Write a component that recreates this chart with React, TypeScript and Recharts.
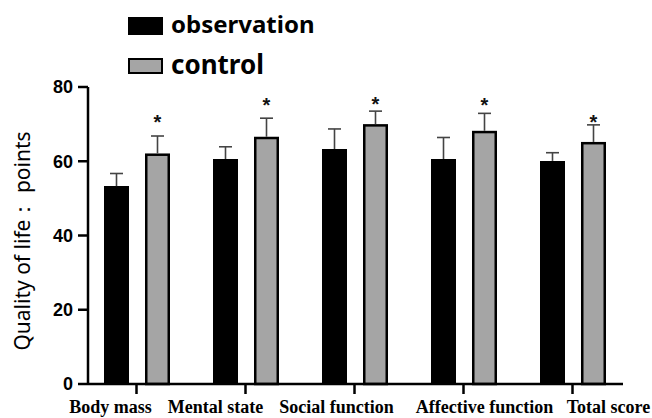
import { BarChart, Bar, XAxis, YAxis, Legend, LabelList } from 'recharts';

const categories = ['Body mass', 'Mental state', 'Social function', 'Affective function', 'Total score'];
const seriesNames = ['observation', 'control'];
const observation = [53.3, 60.6, 63.3, 60.6, 60.1];
const control = [62.1, 66.6, 70.0, 68.2, 65.2];
const observationSd = [3.4, 3.3, 5.4, 5.8, 2.2];
const controlSd = [4.7, 5.0, 3.5, 4.7, 4.6];
// where the significance star sits, in y units
const starLevel = [71.6, 76.3, 76.5, 76.3, 71.7];
const yTicks = [0, 20, 40, 60, 80];

const data = categories.map((name, i) => ({
  name,
  observation: observation[i],
  control: control[i],
}));

// the printed labels are not centred under their ticks in the source figure
const labelShift = [-26, -30, -18, 21, 36];

const GREY = '#a5a5a5';
const LINE = 2.5;

function Whisker(props: any, sd: number[], star?: number[]) {
  const vb = props.viewBox || props;
  const { x, y, width, height } = vb;
  const idx = props.index;
  const value = Number(props.value);
  if (!value || idx == null) return null;
  const perUnit = height / value;
  const cx = x + width / 2;
  const top = y - sd[idx] * perUnit;
  return (
    <g>
      <line x1={cx} y1={y} x2={cx} y2={top} stroke="#444" strokeWidth={1.6} />
      <line x1={cx - 6.5} y1={top} x2={cx + 6.5} y2={top} stroke="#444" strokeWidth={1.6} />
      {star && (
        <text
          x={cx}
          y={y + height - star[idx] * perUnit + 11}
          textAnchor="middle"
          fontSize={20}
          fontWeight="bold"
          fontFamily="Liberation Sans, Arial, sans-serif"
          fill="#111"
        >
          *
        </text>
      )}
    </g>
  );
}

function GreyBar(props: any) {
  const { x, y, width, height } = props;
  if (!height) return null;
  return (
    <rect
      x={x + LINE / 2}
      y={y + LINE / 2}
      width={width - LINE}
      height={height - LINE / 2}
      fill={GREY}
      stroke="#000"
      strokeWidth={LINE}
    />
  );
}

function CategoryTick(props: any) {
  const { x, payload, index } = props;
  return (
    <text
      x={x + (labelShift[index] || 0)}
      y={413}
      textAnchor="middle"
      fontSize={18}
      fontWeight="bold"
      fontFamily="Liberation Serif, Times New Roman, serif"
      fill="#000"
    >
      {payload.value}
    </text>
  );
}

function LegendBox(props: any) {
  const items = [...(props.payload || [])].sort(
    (a: any, b: any) => seriesNames.indexOf(a.value) - seriesNames.indexOf(b.value)
  );
  const rows = [
    { rectY: 18, rectH: 16, textY: 33, size: 24 },
    { rectY: 59, rectH: 14, textY: 74, size: 26 },
  ];
  return (
    <svg width={330} height={86} style={{ display: 'block' }}>
      {items.map((item: any, i: number) => {
        const r = rows[i] || rows[0];
        return (
          <g key={item.value}>
            <rect
              x={129}
              y={r.rectY}
              width={33}
              height={r.rectH}
              fill={item.color}
              stroke="#000"
              strokeWidth={2}
            />
            <text
              x={171}
              y={r.textY}
              fontSize={r.size}
              fontWeight="bold"
              fontFamily="Noto Sans, Open Sans, sans-serif"
              fill="#000"
            >
              {item.value}
            </text>
          </g>
        );
      })}
    </svg>
  );
}

export default function App() {
  return (
    <div style={{ position: 'absolute', left: 0, top: 0, width: 652, height: 418, background: '#fff' }}>
      <BarChart
        width={652}
        height={418}
        data={data}
        margin={{ top: 87, right: 29, bottom: 0, left: 0 }}
        barSize={25}
        barGap={16}
      >
        <XAxis
          dataKey="name"
          height={34}
          padding={{ left: -6, right: -4 }}
          tickSize={10}
          axisLine={{ stroke: '#000', strokeWidth: LINE }}
          tickLine={{ stroke: '#000', strokeWidth: LINE }}
          tick={<CategoryTick />}
          interval={0}
        />
        <YAxis
          width={88}
          domain={[0, 80]}
          ticks={yTicks}
          interval={0}
          tickSize={10}
          tickMargin={5}
          axisLine={{ stroke: '#000', strokeWidth: LINE }}
          tickLine={{ stroke: '#000', strokeWidth: LINE }}
          tick={{ fontSize: 18, fontWeight: 'bold', fill: '#000', fontFamily: 'Liberation Sans, Arial, sans-serif' }}
          label={{
            content: () => (
              <text
                x={30}
                y={241}
                transform="rotate(-90 30 241)"
                textAnchor="middle"
                fontSize={21}
                fontFamily="Noto Sans, sans-serif"
                fill="#000"
              >
                Quality of life： points
              </text>
            ),
          }}
        />
        <Legend
          layout="vertical"
          align="center"
          verticalAlign="middle"
          wrapperStyle={{ position: 'absolute', left: 0, top: 0, width: 330, height: 86 }}
          content={<LegendBox />}
        />
        <Bar dataKey="observation" name="observation" fill="#000" isAnimationActive={false}>
          <LabelList dataKey="observation" content={(p: any) => Whisker(p, observationSd)} />
        </Bar>
        <Bar dataKey="control" name="control" fill={GREY} shape={<GreyBar />} isAnimationActive={false}>
          <LabelList dataKey="control" content={(p: any) => Whisker(p, controlSd, starLevel)} />
        </Bar>
      </BarChart>
    </div>
  );
}
